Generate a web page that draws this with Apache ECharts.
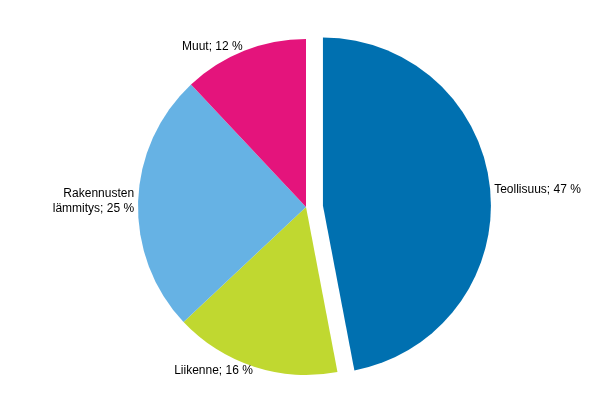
<!DOCTYPE html>
<html>
<head>
<meta charset="utf-8">
<script src="https://cdn.jsdelivr.net/npm/echarts@6/dist/echarts.min.js"></script>
</head>
<body style="margin:0">
<div id="main" style="width:605px;height:416px;"></div>
<script>
var categories = ['Teollisuus', 'Liikenne', 'Rakennusten\nlämmitys', 'Muut'];
var values = [47, 16, 25, 12];
var colors = ['#0070b0', '#c0d830', '#66b2e4', '#e4147c'];

var chart = echarts.init(document.getElementById('main'));
var data = categories.map(function (c, i) {
  return { name: c, value: values[i], selected: i === 0, itemStyle: { color: colors[i] } };
});
chart.setOption({
  animation: false,
  series: [{
    type: 'pie',
    center: [306, 207],
    radius: 168,
    startAngle: 90,
    clockwise: true,
    selectedMode: 'single',
    selectedOffset: 17,
    data: data,
    label: {
      show: true,
      position: 'outside',
      color: '#000',
      fontFamily: 'Liberation Sans, Arial',
      fontSize: 12,
      lineHeight: 15,
      distanceToLabelLine: 0,
      formatter: function (p) { return p.name + '; ' + p.value + ' %'; }
    },
    labelLine: { show: false, length: 4, length2: 0 },
    itemStyle: { borderWidth: 0 },
    emphasis: { disabled: true }
  }]
});
</script>
</body>
</html>
